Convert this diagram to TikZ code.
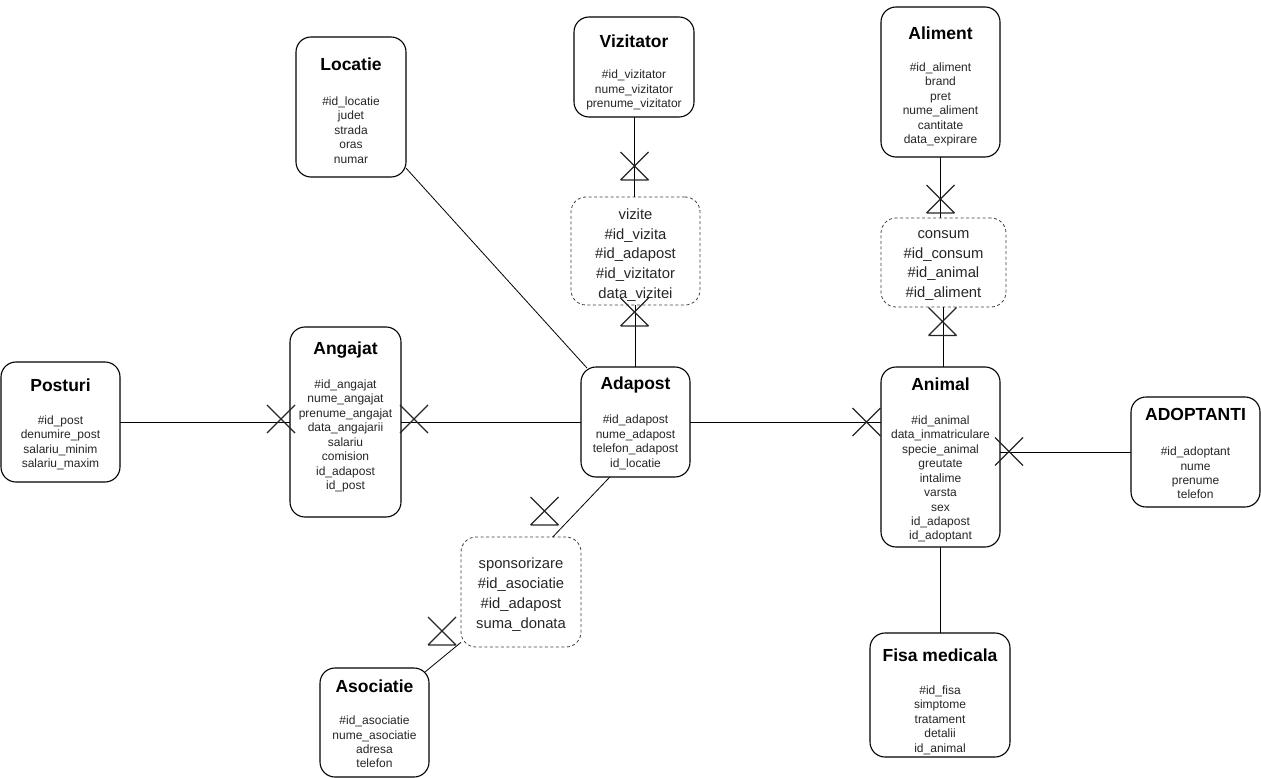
\documentclass[tikz,border=0pt]{standalone}
\usepackage{fontspec}
\setmainfont{Liberation Sans}
\begin{document}
\begin{tikzpicture}[x=1pt,y=-1pt,
  ent/.style={draw=black,line width=1.1pt,rounded corners=15pt,inner sep=0pt,outer sep=0pt,fill=white},
  rel/.style={draw=black!75,line width=0.8pt,dash pattern=on 3pt off 2.5pt,rounded corners=15pt,inner sep=0pt,outer sep=0pt},
  ttl/.style={font=\fontsize{17.5}{20}\selectfont\bfseries,inner sep=0pt,yshift=-1.5pt},
  att/.style={font=\fontsize{12}{14.45}\selectfont,align=center,inner sep=0pt,text=black!85,yshift=-1.5pt},
  rtx/.style={font=\fontsize{14.8}{19.8}\selectfont,align=center,inner sep=0pt,text=black!85,yshift=-2.5pt},
  conn/.style={draw=black,line width=0.8pt},
  sym/.style={draw=black!85,line width=1.3pt},
  xm/.pic={\draw[sym] (-14,-14)--(14,14) (-14,14)--(14,-14);},
  xt/.pic={\draw[sym] (-14,-14)--(14,14) (-14,14)--(14,-14) (-14,14)--(14,14);}
]
\useasboundingbox (0,0) rectangle (1261,778);

% entities
\node[ent,minimum width=119pt,minimum height=120pt] (posturi) at (60.5,422) {};
\node[ttl] (posturiT) at (60.5,384) {Posturi};
\node[att] (posturiA) at (60.5,441.5) {\#id\_post\\denumire\_post\\salariu\_minim\\salariu\_maxim};

\node[ent,minimum width=111pt,minimum height=190pt] (angajat) at (345.5,422) {};
\node[ttl] (angajatT) at (345.5,349) {Angajat};
\node[att] (angajatA) at (345.5,434.5) {\#id\_angajat\\nume\_angajat\\prenume\_angajat\\data\_angajarii\\salariu\\comision\\id\_adapost\\id\_post};

\node[ent,minimum width=110pt,minimum height=140pt] (locatie) at (351,107) {};
\node[ttl] (locatieT) at (351,63) {Locatie};
\node[att] (locatieA) at (351,128.5) {\#id\_locatie\\judet\\strada\\oras\\numar};

\node[ent,minimum width=120pt,minimum height=100pt] (vizitator) at (634,67) {};
\node[ttl] (vizitatorT) at (634,40) {Vizitator};
\node[att] (vizitatorA) at (634,88.5) {\#id\_vizitator\\nume\_vizitator\\prenume\_vizitator};

\node[rel,minimum width=129pt,minimum height=108pt] (vizite) at (635.5,251) {};
\node[rtx] (viziteA) at (635.5,252.5) {vizite\\\#id\_vizita\\\#id\_adapost\\\#id\_vizitator\\data\_vizitei};

\node[ent,minimum width=119pt,minimum height=150pt] (aliment) at (940.5,82) {};
\node[ttl] (alimentT) at (940.5,32) {Aliment};
\node[att] (alimentA) at (940.5,103) {\#id\_aliment\\brand\\pret\\nume\_aliment\\cantitate\\data\_expirare};

\node[rel,minimum width=125pt,minimum height=89pt] (consum) at (943.5,262.5) {};
\node[rtx] (consumA) at (943.5,263) {consum\\\#id\_consum\\\#id\_animal\\\#id\_aliment};

\node[ent,minimum width=109pt,minimum height=110pt] (adapost) at (635.5,422) {};
\node[ttl] (adapostT) at (635.5,383) {Adapost};
\node[att] (adapostA) at (635.5,441) {\#id\_adapost\\nume\_adapost\\telefon\_adapost\\id\_locatie};

\node[ent,minimum width=119pt,minimum height=180pt] (animal) at (940.5,457) {};
\node[ttl] (animalT) at (940.5,383) {Animal};
\node[att] (animalA) at (940.5,477.5) {\#id\_animal\\data\_inmatriculare\\specie\_animal\\greutate\\intalime\\varsta\\sex\\id\_adapost\\id\_adoptant};

\node[ent,minimum width=129pt,minimum height=110pt] (adopt) at (1195.5,452) {};
\node[ttl] (adoptT) at (1195.5,413) {ADOPTANTI};
\node[att] (adoptA) at (1195.5,471.5) {\#id\_adoptant\\nume\\prenume\\telefon};

\node[ent,minimum width=140pt,minimum height=124pt] (fisa) at (940,695) {};
\node[ttl] (fisaT) at (940,654) {Fisa medicala};
\node[att] (fisaA) at (940,718.5) {\#id\_fisa\\simptome\\tratament\\detalii\\id\_animal};

\node[ent,minimum width=109pt,minimum height=109pt] (asoc) at (374.5,722.5) {};
\node[ttl] (asocT) at (374.5,685) {Asociatie};
\node[att] (asocA) at (374.5,740.5) {\#id\_asociatie\\nume\_asociatie\\adresa\\telefon};

\node[rel,minimum width=120pt,minimum height=110pt] (spons) at (521,592) {};
\node[rtx] (sponsA) at (521,592) {sponsorizare\\\#id\_asociatie\\\#id\_adapost\\suma\_donata};

% connectors
\draw[conn] (posturi.east) -- (angajat.west);
\draw[conn] (angajat.east) -- (adapost.west);
\draw[conn] (adapost.east) -- (animal.west |- adapost.east);
\draw[conn] (locatie.-48) -- ([xshift=1pt,yshift=-1pt]adapost.132);
\draw[conn] (vizitator.south) -- (vizitator.south |- vizite.north);
\draw[conn] (vizite.south) -- (adapost.north);
\draw[conn] (aliment.south) -- (aliment.south |- consum.north);
\draw[conn] (consum.south) -- (consum.south |- animal.north);
\draw[conn] (animal.east |- adopt.west) -- (adopt.west);
\draw[conn] (animal.south) -- (animal.south |- fisa.north);
\draw[conn] (adapost.245) -- (spons.60.6);
\draw[conn] (spons.220.9) -- ([xshift=-4pt,yshift=-4pt]asoc.45.3);

% cardinality symbols
\pic at (634.5,166) {xt};
\pic at (634.5,312) {xt};
\pic at (940.5,199) {xt};
\pic at (942.5,321.5) {xt};
\pic at (544.5,511) {xt};
\pic at (442,631) {xt};
\pic at (281,419) {xm};
\pic at (414,419) {xm};
\pic at (866.5,422) {xm};
\pic at (1009,451.5) {xm};
\end{tikzpicture}
\end{document}
